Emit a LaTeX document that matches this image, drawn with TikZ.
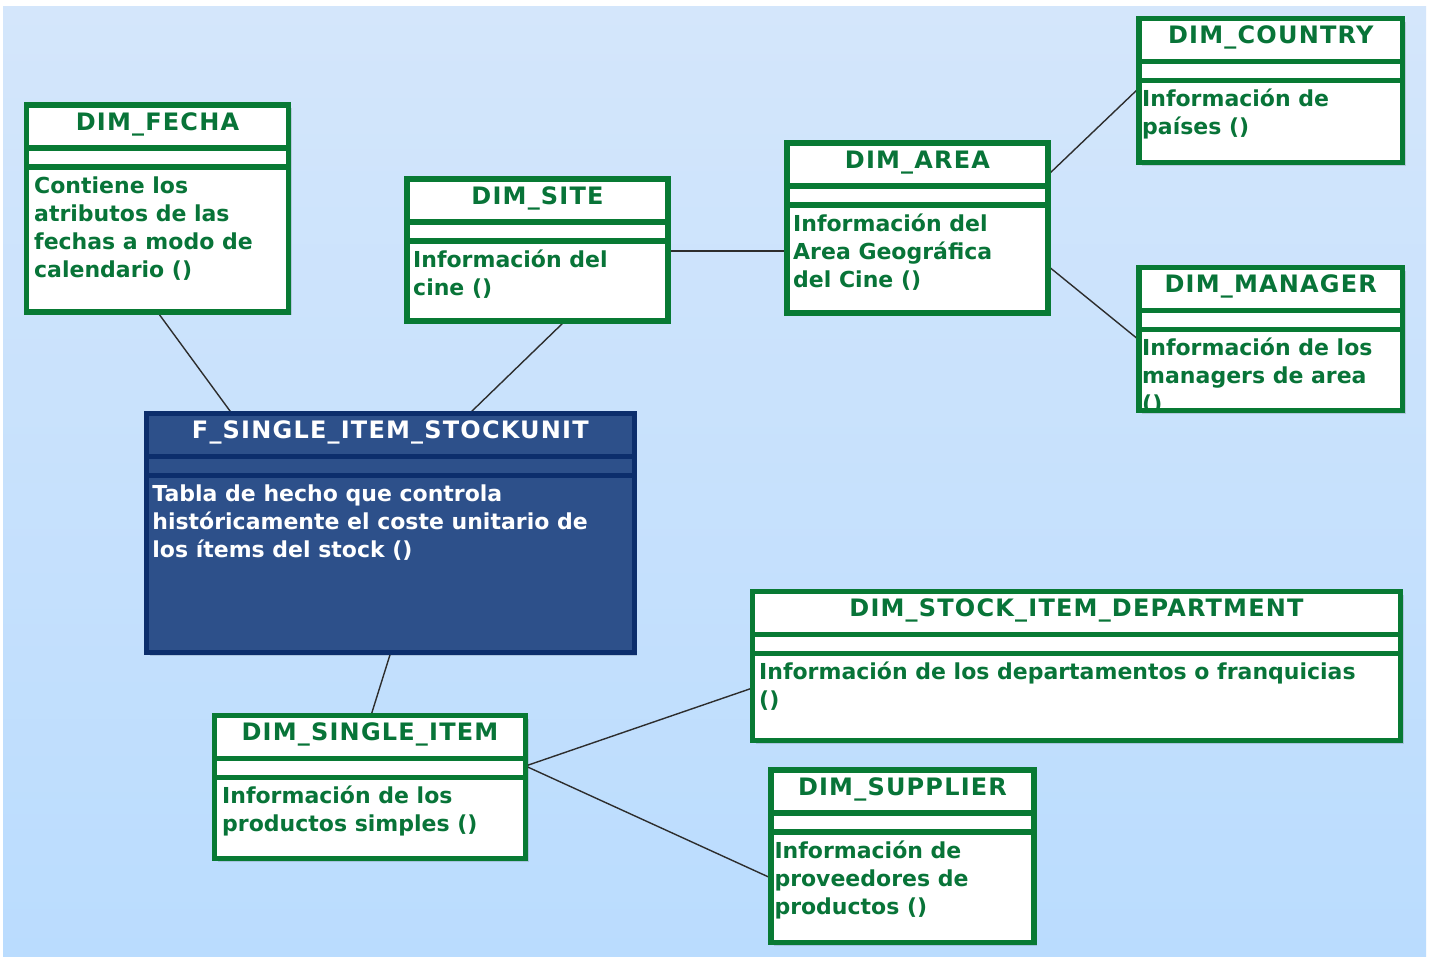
\documentclass[tikz,border=0pt]{standalone}
\usepackage{fontspec}
\setmainfont{DejaVu Sans}
\newfontfamily\captionfont{DejaVu Sans}[LetterSpace=5]
\usetikzlibrary{calc,shadows}

\definecolor{bgtop}{RGB}{212,230,251}
\definecolor{bgbot}{RGB}{186,220,254}
\definecolor{dimgreen}{RGB}{8,122,52}
\definecolor{dimtext}{RGB}{8,116,56}
\definecolor{factfill}{RGB}{45,80,138}
\definecolor{factline}{RGB}{12,46,108}
\definecolor{linkgray}{RGB}{45,45,45}

\pgfdeclarelayer{back}
\pgfdeclarelayer{links}
\pgfsetlayers{back,links,main}

% stacked lines of a compartment, first baseline is the box baseline
\newcommand\textlines[1]{\vtop{\baselineskip=28pt\lineskiplimit=-20pt\halign{##\hfil\cr#1\crcr}}}

\tikzset{
  dimbox/.style={fill=white, draw=none, inner sep=0pt, outer sep=0pt,
    drop shadow={shadow xshift=3pt, shadow yshift=-3pt, opacity=0.12, fill=black}},
  dimbox frame/.style={draw=dimgreen, line width=5.5pt},
  dimbox title/.style={text=dimtext, font=\captionfont\fontsize{24}{28}\selectfont\bfseries},
  dimbox body/.style={text=dimtext, font=\fontsize{22}{28}\selectfont\bfseries},
  factbox/.style={fill=factfill, draw=none, inner sep=0pt, outer sep=0pt,
    drop shadow={shadow xshift=3pt, shadow yshift=-3pt, opacity=0.12, fill=black}},
  factbox frame/.style={draw=factline, line width=5pt},
  factbox title/.style={text=white, font=\captionfont\fontsize{24}{28}\selectfont\bfseries},
  factbox body/.style={text=white, font=\fontsize{22}{28}\selectfont\bfseries},
  link/.style={draw=linkgray, line width=1.4pt},
}

% #1 name, #2-#5 corners (x1,y1,x2,y2), #6 text inset, #7 title, #8 body, #9 kind
\newcommand\umlbox[9]{%
  \node[#9, minimum width={(#4-#2)*1pt}, minimum height={(#5-#3)*1pt}]
    (#1) at ({(#2+#4)/2},{(#3+#5)/2}) {};
  \node[#9 title, anchor=base, inner sep=0pt] (#1-title) at ($(#1.north)+(0,25)$) {#7};
  \begin{scope}
    \clip (#1.north west) rectangle (#1.south east);
    \node[#9 body, anchor=base west, inner sep=0pt] (#1-body)
      at ($(#1.north west)+(#6,88)$) {\textlines{#8}};
  \end{scope}
  \draw[#9 frame] ($(#1.north west)+(0,43)$) -- ($(#1.north east)+(0,43)$);
  \draw[#9 frame] ($(#1.north west)+(0,62)$) -- ($(#1.north east)+(0,62)$);
  \draw[#9 frame] (#1.north west) rectangle (#1.south east);
}

\begin{document}
\begin{tikzpicture}[x=1pt, y=-1pt]
  \useasboundingbox (0,0) rectangle (1432,956);

  \begin{pgfonlayer}{back}
    \fill[white] (0,0) rectangle (1432,956);
    \shade[top color=bgtop, bottom color=bgbot] (3,6) rectangle (1426,956);
  \end{pgfonlayer}

  \umlbox{fecha}{26.5}{105}{288.5}{312}{7.5}{DIM\_FECHA}
    {Contiene los\cr atributos de las\cr fechas a modo de\cr calendario ()}{dimbox}
  \umlbox{site}{407}{179}{668}{321}{6}{DIM\_SITE}
    {Información del\cr cine ()}{dimbox}
  \umlbox{area}{787}{143}{1048}{313}{6}{DIM\_AREA}
    {Información del\cr Area Geográfica\cr del Cine ()}{dimbox}
  \umlbox{country}{1139}{18.5}{1402.5}{162.5}{3}{DIM\_COUNTRY}
    {Información de\cr países ()}{dimbox}
  \umlbox{manager}{1139}{267.5}{1402.5}{410.5}{3}{DIM\_MANAGER}
    {Información de los\cr managers de area\cr ()}{dimbox}
  \umlbox{fact}{146.7}{413.3}{634}{652.5}{5.5}{F\_SINGLE\_ITEM\_STOCKUNIT}
    {Tabla de hecho que controla\cr históricamente el coste unitario de\cr los ítems del stock ()}{factbox}
  \umlbox{dept}{752.5}{591.5}{1400.5}{740.5}{6.5}{DIM\_STOCK\_ITEM\_DEPARTMENT}
    {Información de los departamentos o franquicias\cr ()}{dimbox}
  \umlbox{single}{214.5}{715.5}{525.5}{858.5}{7.5}{DIM\_SINGLE\_ITEM}
    {Información de los\cr productos simples ()}{dimbox}
  \umlbox{supplier}{770.8}{770}{1034.2}{942.5}{3.5}{DIM\_SUPPLIER}
    {Información de\cr proveedores de\cr productos ()}{dimbox}

  \begin{pgfonlayer}{links}
    \draw[link] (fecha.south) -- ($(fact.north west)+(85,0)$);
    \draw[link] ($(site.south west)+(158,0)$) -- ($(fact.north west)+(323,0)$);
    \draw[link] ($(site.north east)+(0,72)$) -- ($(area.north west)+(0,108)$);
    \draw[link] ($(area.north east)+(0,32)$) -- ($(country.north west)+(0,69.5)$);
    \draw[link] ($(area.north east)+(0,123)$) -- ($(manager.north west)+(0,72.5)$);
    \draw[link] ($(fact.south west)+(244,0)$) -- ($(single.north west)+(156.5,0)$);
    \draw[link] ($(single.north east)+(0,50.5)$) -- ($(dept.north west)+(0,96.5)$);
    \draw[link] ($(single.north east)+(0,50.5)$) -- ($(supplier.north west)+(0,108)$);
  \end{pgfonlayer}
\end{tikzpicture}
\end{document}
